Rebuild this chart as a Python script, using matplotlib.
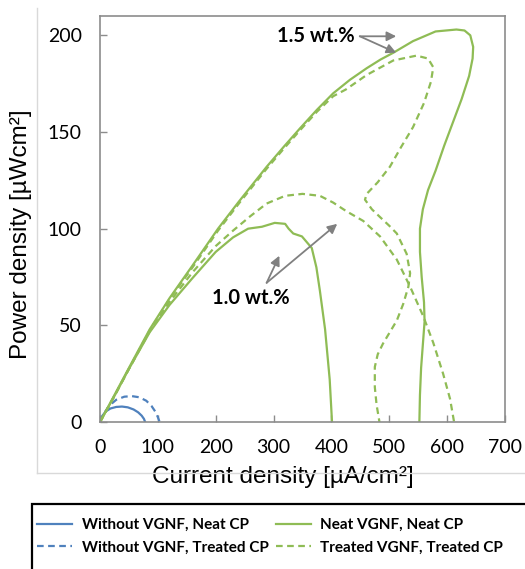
import matplotlib.pyplot as plt
from matplotlib.patches import Rectangle
from matplotlib.lines import Line2D

# Without VGNF
nocat_neat_x = [0, 4, 10, 18, 28, 38, 48, 58, 66, 72, 76, 78]
nocat_neat_y = [0, 3.2, 5.5, 7.0, 7.8, 8.0, 7.6, 6.5, 5.0, 3.3, 1.6, 0]
nocat_treat_x = [0, 7, 16, 28, 42, 55, 68, 80, 89, 96, 100, 103]
nocat_treat_y = [0, 4.5, 8.5, 11.5, 13.1, 13.4, 12.8, 11.0, 8.3, 5.2, 2.5, 0]

# 1.5 wt.%
neat15_x = [0, 25, 50, 86, 120, 160, 204, 240, 288, 318, 346, 375, 403, 432, 461, 485, 507,
            541, 580, 616, 630, 640, 645, 644, 638, 625, 610, 595, 580, 567, 558, 553,
            553, 556, 560, 561, 558, 555, 553, 552]
neat15_y = [0, 14, 28, 48, 64, 81, 100, 114, 132, 142.5, 152, 161.5, 170, 177, 183, 187.5, 191,
            197, 202, 203, 202.5, 200, 194, 188, 179, 167, 155, 143, 130, 120, 110, 100,
            88, 75, 62, 52, 40, 28, 14, 0]
treat15_x = [0, 25, 50, 86, 120, 160, 204, 240, 288, 318, 346, 375, 403, 425, 461, 507,
             547, 567, 576, 572, 560, 541, 520, 501, 480, 461, 458, 470, 484, 500, 513,
             530, 536, 533, 524, 513, 500, 489, 480, 475, 475, 478, 483]
treat15_y = [0, 13.5, 27.5, 47.5, 63.5, 80, 99, 113, 131, 141.5, 151, 160.5, 168.5, 172, 179.5, 187,
             189.5, 188, 183.5, 176, 165, 152.5, 142, 132, 124, 118, 115, 110, 106, 101.5, 97.5,
             87, 77, 70, 61, 52.5, 46, 40.5, 35, 28.5, 18, 9, 0]

# 1.0 wt.%
treat10_x = [0, 25, 50, 86, 120, 160, 200, 230, 260, 288, 320, 350, 380, 403, 426, 455,
             484, 513, 536, 559, 576, 593, 605, 612]
treat10_y = [0, 13.5, 27.5, 47, 62, 77.5, 91, 99, 106.5, 113, 117, 118, 117, 113.5, 109, 104,
             96, 84, 70, 54.5, 41, 25, 12, 0]
neat10_x = [0, 25, 50, 86, 120, 160, 200, 230, 256, 280, 302, 320, 326, 334, 349, 366,
            374, 380, 389, 397, 401]
neat10_y = [0, 13.5, 27.5, 46.5, 60.5, 74.5, 88, 95.5, 100, 101, 103, 102.5, 100, 97.5, 96, 90,
            80, 68, 48, 22, 0]

blue = '#4F81BD'
green = '#8FBC55'
gray = '#808080'

fig = plt.figure(figsize=(5.25, 5.69), dpi=100)
ax = fig.add_axes([0.1905, 0.2583, 0.7714, 0.7136])

lw = 1.6
dash = (3, 2)
l1, = ax.plot(nocat_neat_x, nocat_neat_y, color=blue, lw=lw, label='Without VGNF, Neat CP')
l2, = ax.plot(nocat_treat_x, nocat_treat_y, color=blue, lw=lw, dashes=dash,
              label='Without VGNF, Treated CP')
l3, = ax.plot(neat15_x, neat15_y, color=green, lw=lw, label='Neat VGNF, Neat CP')
ax.plot(neat10_x, neat10_y, color=green, lw=lw)
l4, = ax.plot(treat15_x, treat15_y, color=green, lw=lw, dashes=dash,
              label='Treated VGNF, Treated CP')
ax.plot(treat10_x, treat10_y, color=green, lw=lw, dashes=dash)

ax.set_xlim(0, 700)
ax.set_ylim(0, 210)
ax.set_xticks(range(0, 701, 100))
ax.set_yticks([0, 50, 100, 150, 200])
for s in ax.spines.values():
    s.set_color('#8c8c8c')
    s.set_linewidth(1.2)
ax.tick_params(axis='both', direction='in', length=5, width=1, color='#8c8c8c',
               labelsize=14, labelcolor='black')
ax.tick_params(axis='x', pad=12)
ax.tick_params(axis='y', pad=13)
for t in ax.get_xticklabels() + ax.get_yticklabels():
    t.set_fontfamily('Lato')

ax.set_xlabel('Current density [µA/cm²]', fontsize=17.5, family='Liberation Sans')
ax.set_ylabel('Power density [µWcm²]', fontsize=17.5, family='Liberation Sans')
ax.xaxis.set_label_coords(0.452, -0.108)
ax.yaxis.set_label_coords(-0.168, 0.463)

# annotations
arrow = dict(arrowstyle='-|>', color=gray, lw=1.3, mutation_scale=14, shrinkA=0, shrinkB=0)
ax.text(373, 199.5, '1.5 wt.%', ha='center', va='center', fontsize=14.5, fontweight='bold',
        family='Lato')
ax.annotate('', xy=(512, 199.5), xytext=(449, 199.5), arrowprops=arrow)
ax.annotate('', xy=(512, 191), xytext=(449, 199.5), arrowprops=arrow)
ax.text(261, 64, '1.0 wt.%', ha='center', va='center', fontsize=14.5, fontweight='bold',
        family='Lato')
ax.annotate('', xy=(310, 86), xytext=(288, 72), arrowprops=arrow)
ax.annotate('', xy=(410, 102.5), xytext=(288, 72), arrowprops=arrow)

# chart area border (left and bottom visible)
fig.add_artist(Line2D([37 / 525, 37 / 525], [1 - 8 / 569, 1 - 473 / 569], color='#d9d9d9', lw=1))
fig.add_artist(Line2D([37 / 525, 1], [1 - 473 / 569, 1 - 473 / 569], color='#d9d9d9', lw=1))

# legend box
fig.add_artist(Rectangle((32 / 525, -0.05), 1.0, 1 - 504 / 569 + 0.05,
                         transform=fig.transFigure, fill=False, edgecolor='black', lw=1.6))
leg = fig.legend(handles=[l1, l2, l3, l4], loc='upper left', ncol=2, frameon=False,
                 bbox_to_anchor=(25 / 525, 1 - 506 / 569), handlelength=2.3,
                 handletextpad=0.6, columnspacing=0.5, labelspacing=0.55, borderpad=0.3,
                 prop={'family': 'Lato', 'weight': 'bold', 'size': 11})

fig.savefig('out.png', dpi=100)
